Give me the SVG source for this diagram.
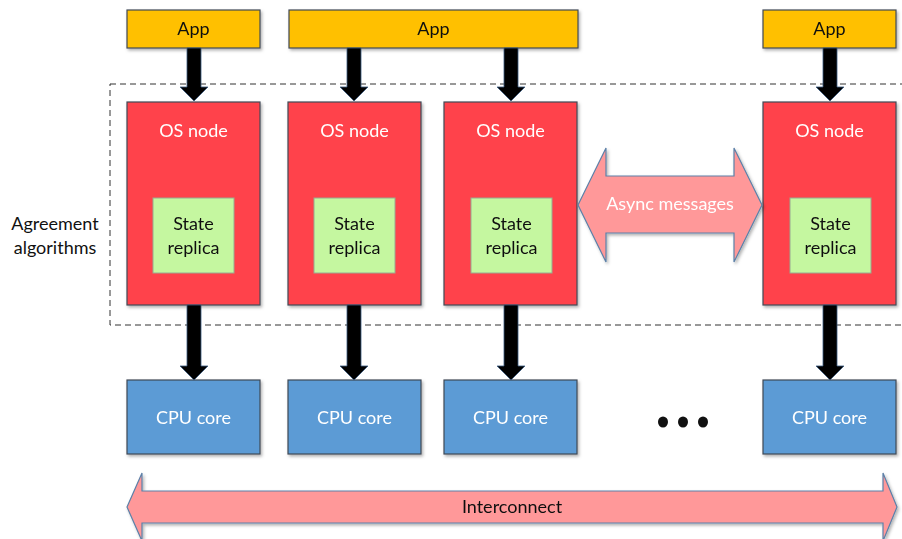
<svg xmlns="http://www.w3.org/2000/svg" width="902" height="539" viewBox="0 0 902 539">
  <style>
    .lbl { font-family: Lato, "Liberation Sans", sans-serif; font-size: 18px; text-anchor: middle; }
    .app { fill: #FFC000; stroke: #404a56; stroke-width: 1.2; }
    .os { fill: #FF434B; stroke: #404a56; stroke-width: 1.2; }
    .rep { fill: #C5F7A0; stroke: #9aaa90; stroke-width: 1; }
    .cpu { fill: #5B9BD5; stroke: #404a56; stroke-width: 1.2; }
    .wide { fill: #FF9899; stroke: #5C80A8; stroke-width: 1.2; }
    .dark { fill: #111111; }
    .light { fill: #ffffff; }
    .down { fill: #000000; stroke: #3a5a80; stroke-width: 0.8; }
  </style>
  <defs>
    <filter id="shadow" x="-10%" y="-10%" width="130%" height="130%">
      <feDropShadow dx="1.5" dy="2" stdDeviation="1.5" flood-color="#000" flood-opacity="0.3"/>
    </filter>
  </defs>

  <rect width="902" height="539" fill="#ffffff"/>

  <!-- agreement region -->
  <rect x="110" y="84" width="800" height="241" fill="none" stroke="#333" stroke-width="1" stroke-dasharray="6,4"/>
  <text class="lbl dark" x="55" y="230">Agreement</text>
  <text class="lbl dark" x="55" y="254">algorithms</text>

  <!-- applications -->
  <g id="app1" filter="url(#shadow)">
    <rect class="app" x="127" y="10" width="133" height="38"/>
    <text class="lbl dark" x="193.5" y="35">App</text>
  </g>
  <g id="app2" filter="url(#shadow)">
    <rect class="app" x="289" y="10" width="289" height="38"/>
    <text class="lbl dark" x="433.5" y="35">App</text>
  </g>
  <g id="app3" filter="url(#shadow)">
    <rect class="app" x="763" y="10" width="133" height="38"/>
    <text class="lbl dark" x="829.5" y="35">App</text>
  </g>

  <!-- OS nodes with state replicas -->
  <g id="os1" filter="url(#shadow)">
    <rect class="os" x="127" y="102" width="133" height="203"/>
    <text class="lbl light" x="193.5" y="137">OS node</text>
    <rect class="rep" x="153" y="198" width="81" height="75"/>
    <text class="lbl dark" x="193.5" y="230">State</text>
    <text class="lbl dark" x="193.5" y="254">replica</text>
  </g>
  <g id="os2" filter="url(#shadow)">
    <rect class="os" x="288" y="102" width="133" height="203"/>
    <text class="lbl light" x="354.5" y="137">OS node</text>
    <rect class="rep" x="314" y="198" width="81" height="75"/>
    <text class="lbl dark" x="354.5" y="230">State</text>
    <text class="lbl dark" x="354.5" y="254">replica</text>
  </g>
  <g id="os3" filter="url(#shadow)">
    <rect class="os" x="444" y="102" width="133" height="203"/>
    <text class="lbl light" x="510.5" y="137">OS node</text>
    <rect class="rep" x="471" y="198" width="81" height="75"/>
    <text class="lbl dark" x="511.5" y="230">State</text>
    <text class="lbl dark" x="511.5" y="254">replica</text>
  </g>
  <g id="os4" filter="url(#shadow)">
    <rect class="os" x="763" y="102" width="133" height="203"/>
    <text class="lbl light" x="829.5" y="137">OS node</text>
    <rect class="rep" x="790" y="198" width="81" height="75"/>
    <text class="lbl dark" x="830.5" y="230">State</text>
    <text class="lbl dark" x="830.5" y="254">replica</text>
  </g>

  <!-- CPU cores -->
  <g id="cpu1" filter="url(#shadow)">
    <rect class="cpu" x="127" y="380" width="133" height="74"/>
    <text class="lbl light" x="193.5" y="424">CPU core</text>
  </g>
  <g id="cpu2" filter="url(#shadow)">
    <rect class="cpu" x="288" y="380" width="133" height="74"/>
    <text class="lbl light" x="354.5" y="424">CPU core</text>
  </g>
  <g id="cpu3" filter="url(#shadow)">
    <rect class="cpu" x="444" y="380" width="133" height="74"/>
    <text class="lbl light" x="510.5" y="424">CPU core</text>
  </g>
  <g id="cpu4" filter="url(#shadow)">
    <rect class="cpu" x="763" y="380" width="133" height="74"/>
    <text class="lbl light" x="829.5" y="424">CPU core</text>
  </g>

  <!-- ellipsis between cores -->
  <g id="ellipsis" class="dark">
    <ellipse cx="663" cy="422" rx="5" ry="5.5"/>
    <ellipse cx="683" cy="422" rx="5" ry="5.5"/>
    <ellipse cx="703" cy="422" rx="5" ry="5.5"/>
  </g>

  <!-- connectors -->
  <g id="connectors">
    <!-- app to OS -->
    <path class="down" d="M187,48 H201 V87 H208 L194,101 L180,87 H187 Z"/>
    <path class="down" d="M347,48 H361 V87 H368 L354,101 L340,87 H347 Z"/>
    <path class="down" d="M504,48 H518 V87 H525 L511,101 L497,87 H504 Z"/>
    <path class="down" d="M823,48 H837 V87 H844 L830,101 L816,87 H823 Z"/>
    <!-- OS to CPU -->
    <path class="down" d="M187,305 H201 V366 H208 L194,380 L180,366 H187 Z"/>
    <path class="down" d="M347,305 H361 V366 H368 L354,380 L340,366 H347 Z"/>
    <path class="down" d="M504,305 H518 V366 H525 L511,380 L497,366 H504 Z"/>
    <path class="down" d="M823,305 H837 V366 H844 L830,380 L816,366 H823 Z"/>

    <!-- async messages double arrow -->
    <g id="async" filter="url(#shadow)">
      <path class="wide" d="M578,205 L606,148 V176 H734 V148 L762,205 L734,262 V233 H606 V262 Z"/>
      <text class="lbl light" x="670" y="210">Async messages</text>
    </g>

    <!-- interconnect double arrow -->
    <g id="interconnect" filter="url(#shadow)">
      <path class="wide" d="M127,507 L142,473 V491 H883 V473 L897,507 L883,541 V523 H142 V541 Z"/>
      <text class="lbl dark" x="512" y="513">Interconnect</text>
    </g>
  </g>
</svg>
